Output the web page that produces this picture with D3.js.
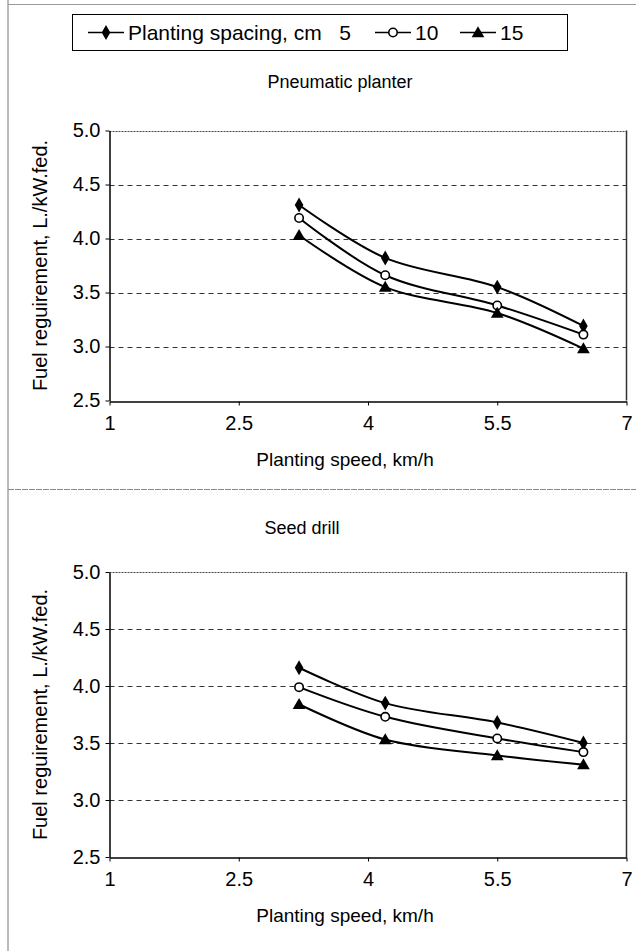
<!DOCTYPE html>
<html>
<head>
<meta charset="utf-8">
<script src="https://cdn.jsdelivr.net/npm/d3@7"></script>
<style>
  body { margin: 0; background: #fff; }
  svg { display: block; font-family: "Liberation Sans", Arial, sans-serif; }
</style>
</head>
<body>
<svg class="main" width="636" height="951"></svg>
<script>
// data
const speeds = [3.2, 4.2, 5.5, 6.5]
const spacings = ['5', '10', '15']
const markers = ['diamond', 'circle', 'triangle']
const pneumatic5 = [4.31, 3.82, 3.55, 3.19]
const pneumatic10 = [4.19, 3.66, 3.38, 3.11]
const pneumatic15 = [4.03, 3.55, 3.31, 2.98]
const drill5 = [4.16, 3.85, 3.68, 3.50]
const drill10 = [3.99, 3.73, 3.54, 3.42]
const drill15 = [3.84, 3.53, 3.39, 3.31]
const xTicks = [1, 2.5, 4, 5.5, 7]
const yTicks = [2.5, 3.0, 3.5, 4.0, 4.5, 5.0]

const svg = d3.select('svg.main')
const font = '"Liberation Sans", Arial, sans-serif'

// outer frame
svg.append('line').attr('x1', 8).attr('x2', 8).attr('y1', 0).attr('y2', 951)
  .attr('stroke', '#777').attr('stroke-width', 1)
svg.append('line').attr('x1', 8).attr('x2', 636).attr('y1', 4.5).attr('y2', 4.5)
  .attr('stroke', '#999').attr('stroke-width', 1)
// separator between the two panels
svg.append('line').attr('x1', 8).attr('x2', 636).attr('y1', 489.5).attr('y2', 489.5)
  .attr('stroke', '#888').attr('stroke-width', 1).attr('stroke-dasharray', '6,1')

function marker(g, type, x, y) {
  if (type == 'diamond') {
    g.append('path').attr('d', d3.symbol(d3.symbolDiamond, 64)())
      .attr('transform', `translate(${x},${y})`).attr('fill', '#000')
  } else if (type == 'circle') {
    g.append('circle').attr('cx', x).attr('cy', y).attr('r', 4.2)
      .attr('fill', '#fff').attr('stroke', '#000').attr('stroke-width', 1.6)
  } else {
    g.append('path').attr('d', d3.symbol(d3.symbolTriangle, 70)())
      .attr('transform', `translate(${x},${y + 1})`).attr('fill', '#000')
  }
}

// legend
const legend = svg.append('g')
legend.append('rect').attr('x', 72.5).attr('y', 14.5).attr('width', 495).attr('height', 36)
  .attr('fill', 'none').attr('stroke', '#000').attr('stroke-width', 1)
const legendItems = [
  {x: 88, label: 'Planting spacing, cm   ' + spacings[0]},
  {x: 375, label: spacings[1]},
  {x: 460, label: spacings[2]}
]
legendItems.forEach((it, i) => {
  legend.append('line').attr('x1', it.x).attr('x2', it.x + 36).attr('y1', 32.5).attr('y2', 32.5)
    .attr('stroke', '#000').attr('stroke-width', 1.6)
  marker(legend, markers[i], it.x + 18, 32.5)
  legend.append('text').attr('x', it.x + 40).attr('y', 40)
    .attr('font-size', 21).attr('xml:space', 'preserve').style('white-space', 'pre')
    .text(it.label)
})

function drawPanel(opts) {
  const x = d3.scaleLinear().domain([1, 7]).range([109.5, 626.5])
  const y = d3.scaleLinear().domain([2.5, 5]).range([opts.bottom, opts.top])
  const g = svg.append('g')

  g.append('text').attr('x', opts.titleX).attr('y', opts.titleY)
    .attr('text-anchor', 'middle').attr('font-size', 18).text(opts.title)

  // gridlines
  g.selectAll('line.grid').data(yTicks.filter(t => t > 2.5 && t < 5)).join('line')
    .attr('class', 'grid')
    .attr('x1', x(1)).attr('x2', x(7))
    .attr('y1', d => Math.round(y(d)) + 0.5).attr('y2', d => Math.round(y(d)) + 0.5)
    .attr('stroke', '#333').attr('stroke-width', 1).attr('stroke-dasharray', '5,4')
  // top and right border
  g.append('line').attr('x1', x(1)).attr('x2', x(7))
    .attr('y1', Math.round(y(5)) + 0.5).attr('y2', Math.round(y(5)) + 0.5)
    .attr('stroke', '#444').attr('stroke-width', 1).attr('stroke-dasharray', '2,1')
  g.append('line').attr('x1', x(7)).attr('x2', x(7)).attr('y1', y(5)).attr('y2', y(2.5))
    .attr('stroke', '#333').attr('stroke-width', 1.5)

  // axes
  const xAxis = g.append('g').attr('transform', `translate(0,${Math.round(y(2.5)) + 0.5})`)
    .call(d3.axisBottom(x).tickValues(xTicks).tickSize(4).tickSizeOuter(0)
      .tickFormat(d3.format('')))
  xAxis.select('.domain').attr('stroke-width', 1.5)
  xAxis.selectAll('text').attr('font-size', 20).attr('dy', '1.05em')
    .attr('font-family', font).attr('fill', '#000')
  const yAxis = g.append('g').attr('transform', `translate(${x(1)},0)`)
    .call(d3.axisLeft(y).tickValues(yTicks).tickSize(4).tickSizeOuter(0)
      .tickFormat(d3.format('.1f')))
  yAxis.select('.domain').attr('stroke-width', 1.5)
  yAxis.selectAll('text').attr('font-size', 20).attr('x', -9)
    .attr('font-family', font).attr('fill', '#000')

  g.append('text').attr('x', 345).attr('y', opts.bottom + 65)
    .attr('text-anchor', 'middle').attr('font-size', 19).text('Planting speed, km/h')
  g.append('text')
    .attr('transform', `translate(47,${(opts.top + opts.bottom) / 2}) rotate(-90)`)
    .attr('text-anchor', 'middle').attr('font-size', 20).text('Fuel reguirement, L./kW.fed.')

  // series
  const line = d3.line().x((d, i) => x(speeds[i])).y(d => y(d))
    .curve(d3.curveCatmullRom.alpha(0.5))
  opts.series.forEach((s, k) => {
    g.append('path').attr('d', line(s)).attr('fill', 'none')
      .attr('stroke', '#000').attr('stroke-width', 2)
    s.forEach((v, i) => marker(g, markers[k], x(speeds[i]), y(v)))
  })
}

drawPanel({top: 130.5, bottom: 400.5, title: 'Pneumatic planter', titleX: 340, titleY: 88,
  series: [pneumatic5, pneumatic10, pneumatic15]})
drawPanel({top: 572, bottom: 857, title: 'Seed drill', titleX: 302, titleY: 534,
  series: [drill5, drill10, drill15]})
</script>
</body>
</html>
